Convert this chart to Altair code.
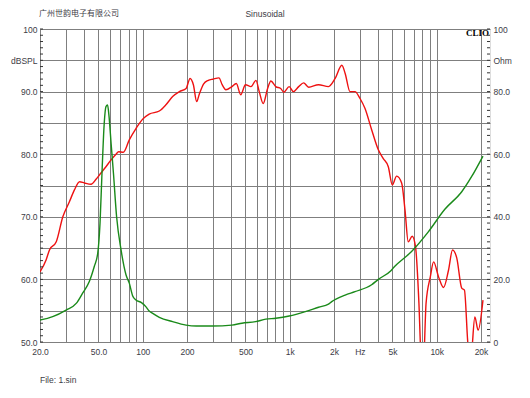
import altair as alt
import pandas as pd

# ---------------- data ----------------
spl_freq = [20, 22, 23.2, 25.8, 28.6, 31.7, 34.3, 37.2, 40.1, 44.5, 48.1, 52.0, 56.2, 60.9,
            65.8, 68.5, 73.7, 81.0, 89.9, 99.9, 110.6, 129.6, 143.8, 159.7, 177.6, 197.2,
            209.9, 221, 232.8, 241.8, 259, 279, 301, 330, 347, 368, 404, 433, 464, 500, 545,
            589, 620, 660, 707, 744, 803, 868, 912, 991, 1058, 1151, 1242, 1345, 1570, 1834,
            2037, 2261, 2382, 2569, 2779, 3006, 3252, 3607, 4005, 4329, 4683, 4985, 5333,
            5771, 6081, 6399, 6812, 7171, 7565, 7807, 8100, 8460, 9042, 9521, 10290, 11120,
            12030, 12800, 13690, 14790, 15430, 16220, 16800, 17250, 18170, 19120, 20630]
spl_db = [61.2, 63.1, 64.7, 66.0, 70.0, 72.4, 74.3, 75.6, 75.4, 75.2, 76.0, 77.0, 78.0, 79.1,
          80.0, 80.4, 80.3, 82.3, 84.1, 85.6, 86.4, 86.9, 87.9, 89.2, 90.0, 90.5,
          92.1, 91.1, 88.4, 89.5, 91.2, 91.8, 92.0, 92.2, 91.1, 90.3, 90.8, 91.3, 89.5, 91.1, 90.8,
          91.8, 90.0, 88.1, 90.5, 91.7, 90.8, 90.5, 89.9, 90.8, 90.0, 90.8, 91.4, 90.7, 91.1, 90.8,
          92.1, 94.2, 92.9, 90.0, 90.0, 88.9, 87.3, 83.9, 80.7, 79.3, 78.0, 75.1, 76.5,
          75.4, 71.1, 66.0, 66.9, 65.2, 56.2, 48.0, 46.0, 56.2, 60.4, 62.8, 60.4, 58.7,
          61.5, 64.7, 63.4, 58.6, 58.3, 50.3, 46.0, 48.0, 54.0, 51.9, 56.7]

imp_freq = [20, 24.4, 30.1, 35.4, 39.0, 43.3, 46.8, 49.4, 51.2, 52.8, 54.7, 56.2, 57.6, 59.0,
            60.9, 63.2, 66.4, 71.2, 76.9, 81.0, 85.3, 89.9, 98.0, 104.9, 110.6, 116.2, 129.6,
            159.7, 197, 231, 298, 404, 473, 585, 687, 803, 991, 1276, 1570, 1834, 1930, 2382,
            2779, 3607, 4005, 4877, 5166, 6740, 8761, 11350, 14790, 17250, 20630]
imp_ohm = [7.0, 8.1, 10.2, 12.4, 15.6, 19.3, 24.1, 28.3, 37.9, 53.9, 69.9, 75.2, 75.7, 72.0,
           63.5, 53.9, 40.0, 29.4, 21.5, 18.8, 14.8, 13.4, 12.6, 11.3, 9.9, 9.2, 7.9,
           6.5, 5.4, 5.1, 5.1, 5.4, 6.0, 6.5, 7.3, 7.6, 8.3, 9.7, 11.1, 12.1, 12.9, 15.0,
           16.1, 18.3, 20.0, 22.8, 24.1, 28.9, 35.2, 42.4, 48.0, 52.8, 59.4]

x_grid = [20, 30, 40, 50, 60, 70, 80, 90, 100, 200, 300, 400, 500, 600, 700, 800, 900,
          1000, 2000, 3000, 4000, 5000, 6000, 7000, 8000, 9000, 10000, 20000]
x_labels = {20: "20.0", 50: "50.0", 100: "100", 200: "200", 500: "500", 1000: "1k",
            2000: "2k", 3000: "Hz", 5000: "5k", 10000: "10k", 20000: "20k"}
db_grid = [50, 55, 60, 65, 70, 75, 80, 85, 90, 95, 100]
db_labels = {50: "50.0", 60: "60.0", 70: "70.0", 80: "80.0", 90: "90.0", 95: "dBSPL", 100: "100"}
ohm_ticks = [0, 20, 40, 60, 80, 90, 100]
ohm_labels = {0: "0", 20: "20.0", 40: "40.0", 60: "60.0", 80: "80.0", 90: "Ohm", 100: "100"}
db_minor = list(range(50, 101))
ohm_minor = list(range(0, 101, 2))

title_left = "广州世韵电子有限公司"
title_mid = "Sinusoidal"
footer = "File: 1.sin"
brand = "CLIO"

# ---------------- chart ----------------
W, H = 450, 313
TXT = "#3c3c46"
GRID = "#7f7f7f"
FONT = "Liberation Sans"


def label_expr(d):
    return " : ".join(f"datum.value == {k} ? '{v}'" for k, v in d.items()) + " : ''"


xscale = alt.Scale(type="log", domain=[20, 23030], nice=False)
dbscale = alt.Scale(domain=[50, 100], nice=False, zero=False)
ohmscale = alt.Scale(domain=[0, 100], nice=False, zero=False)

spl_df = pd.DataFrame({"f": spl_freq, "db": spl_db})
imp_df = pd.DataFrame({"f": imp_freq, "ohm": imp_ohm})
dbm_df = pd.DataFrame({"db": db_minor})
ohmm_df = pd.DataFrame({"ohm": ohm_minor})

x_axis = alt.Axis(values=x_grid, grid=True, gridColor=GRID, gridWidth=1, gridOpacity=1,
                  ticks=False, domain=False, labelExpr=label_expr(x_labels),
                  labelFont=FONT, labelFontSize=8.5, labelColor=TXT, labelPadding=5,
                  labelFlush=False, labelOverlap=False, title=None)
db_axis = alt.Axis(orient="left", values=db_grid, grid=True, gridColor=GRID, gridWidth=1,
                   gridOpacity=1, ticks=False, domain=False, labelExpr=label_expr(db_labels),
                   labelFont=FONT, labelFontSize=8.5, labelColor=TXT, labelPadding=3,
                   labelOverlap=False, labelFlush=False, title=None)
ohm_axis = alt.Axis(orient="right", values=ohm_ticks, grid=False, ticks=False, domain=False,
                    labelExpr=label_expr(ohm_labels), labelFont=FONT, labelFontSize=8.5,
                    labelColor=TXT, labelPadding=3, labelOverlap=False, labelFlush=False,
                    title=None)

spl = alt.Chart(spl_df).mark_line(color="#ee1111", strokeWidth=1.4, clip=True,
                                  interpolate="monotone").encode(
    x=alt.X("f:Q", scale=xscale, axis=x_axis),
    y=alt.Y("db:Q", scale=dbscale, axis=db_axis),
)
db_ticks = alt.Chart(dbm_df).mark_rule(color="#333333", strokeWidth=1).encode(
    x=alt.value(0), x2=alt.value(3),
    y=alt.Y("db:Q", scale=dbscale, axis=db_axis),
)
imp = alt.Chart(imp_df).mark_line(color="#1a8a1a", strokeWidth=1.4, clip=True,
                                  interpolate="monotone").encode(
    x=alt.X("f:Q", scale=xscale, axis=x_axis),
    y=alt.Y("ohm:Q", scale=ohmscale, axis=ohm_axis),
)
ohm_ticks_l = alt.Chart(ohmm_df).mark_rule(color="#333333", strokeWidth=1).encode(
    x=alt.value(W - 3), x2=alt.value(W),
    y=alt.Y("ohm:Q", scale=ohmscale, axis=ohm_axis),
)

one = pd.DataFrame({"k": [0]})
t1 = alt.Chart(one).mark_text(text=title_left, font="Noto Sans CJK SC", fontSize=8,
                              color=TXT, align="left", baseline="middle").encode(
    x=alt.value(-1), y=alt.value(-15))
t2 = alt.Chart(one).mark_text(text=title_mid, font=FONT, fontSize=8.5, color=TXT,
                              align="center", baseline="middle").encode(
    x=alt.value(225), y=alt.value(-15))
t3 = alt.Chart(one).mark_text(text=footer, font=FONT, fontSize=8.5, color=TXT,
                              align="left", baseline="middle").encode(
    x=alt.value(0), y=alt.value(351))
t4 = alt.Chart(one).mark_text(text=brand, font="Liberation Serif", fontSize=9,
                              fontWeight="bold", color="#000000", align="right",
                              baseline="alphabetic").encode(
    x=alt.value(W - 1), y=alt.value(6.5))

left_group = alt.layer(spl, db_ticks, t1, t2, t3, t4)
right_group = alt.layer(imp, ohm_ticks_l)

chart = alt.layer(left_group, right_group).resolve_scale(y="independent").properties(
    width=W, height=H,
    padding={"left": 32, "top": 21, "right": 32, "bottom": 48},
    autosize=alt.AutoSizeParams(type="none"),
).configure_view(stroke="#222222", strokeWidth=1.5).configure(background="#ffffff")

chart.save("out.html", embed_options={"renderer": "svg", "actions": False})
